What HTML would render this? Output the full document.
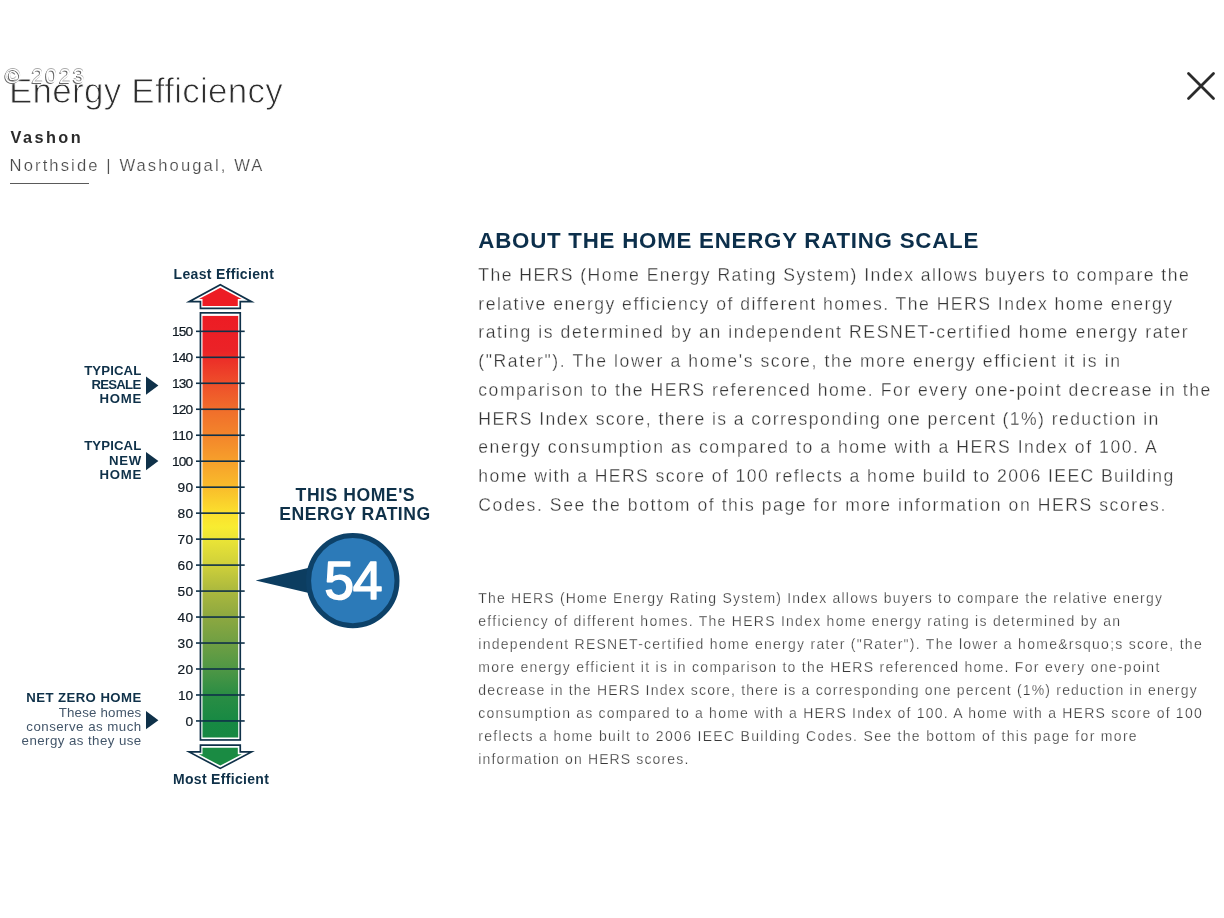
<!DOCTYPE html>
<html lang="en"><head><meta charset="utf-8"><title>Energy Efficiency</title>
<style>
html,body{margin:0;padding:0;background:#fff;}
body{width:1224px;height:918px;position:relative;overflow:hidden;font-family:'Liberation Sans',sans-serif;}
h1,h2,p{margin:0;padding:0;font-weight:400;}
.t{position:absolute;white-space:pre;line-height:1;display:block;margin:0;font-family:'Liberation Sans',sans-serif;}
.wm{position:absolute;left:5px;top:65px;font-size:21px;line-height:22px;color:#fff;letter-spacing:2.1px;word-spacing:1px;text-shadow:-1px 1px 0 #666,0 -1px 0 #aaa,0 0 3px #fff,0 0 3px #fff;}
.ul{position:absolute;left:10px;top:182.8px;width:79px;height:1.2px;background:#5a5a5a;}
.close{position:absolute;left:1182px;top:67px;width:38px;height:38px;padding:0;margin:0;border:0;background:none;}
.close svg{display:block;}
</style></head><body>
<header>
<h1 class="t" style="left:9.0px;top:73.27px;font-size:35px;font-weight:400;color:#2d2d2d;letter-spacing:0.246px;-webkit-text-stroke:0.9px #fff;">Energy Efficiency</h1>
<div class="t" style="left:10.5px;top:128.90px;font-size:16.3px;font-weight:700;color:#2b2b2b;letter-spacing:2.459px;">Vashon</div>
<div class="t" style="left:9.6px;top:157.95px;font-size:16.6px;font-weight:400;color:#4a4a4a;letter-spacing:2.104px;-webkit-text-stroke:0.2px #fff;">Northside | Washougal, WA</div>
<div class="ul"></div>
<div class="wm">&copy; 2023</div>
</header>
<button class="close" aria-label="Close"><svg width="38" height="38" viewBox="0 0 38 38"><path d="M6.5 6.5 L31.5 31.5 M31.5 6.5 L6.5 31.5" stroke="#2b2b2b" stroke-width="2.8" stroke-linecap="round" fill="none"/></svg></button>
<section class="hers-chart">
<svg class="chart" width="470" height="918" viewBox="0 0 470 918" style="position:absolute;left:0;top:0" font-family="'Liberation Sans', sans-serif">
<defs><linearGradient id="g" gradientUnits="userSpaceOnUse" x1="0" y1="316" x2="0" y2="738">
<stop offset="0" stop-color="#ed1c24"/>
<stop offset="0.08" stop-color="#eb2227"/>
<stop offset="0.159" stop-color="#ee4e2a"/>
<stop offset="0.221" stop-color="#f06d2b"/>
<stop offset="0.283" stop-color="#f3852b"/>
<stop offset="0.344" stop-color="#f6a02b"/>
<stop offset="0.406" stop-color="#f9bc2b"/>
<stop offset="0.467" stop-color="#fbe02d"/>
<stop offset="0.5" stop-color="#f8ec31"/>
<stop offset="0.529" stop-color="#ebe536"/>
<stop offset="0.59" stop-color="#cfd03a"/>
<stop offset="0.652" stop-color="#aab83e"/>
<stop offset="0.713" stop-color="#8da840"/>
<stop offset="0.775" stop-color="#6f9f43"/>
<stop offset="0.836" stop-color="#4f9745"/>
<stop offset="0.898" stop-color="#2a8d44"/>
<stop offset="0.96" stop-color="#178943"/>
<stop offset="1" stop-color="#168842"/>
</linearGradient>
</defs>
<rect x="200.45" y="312.85" width="39.8" height="427.1" fill="#fff" stroke="#0f3149" stroke-width="1.7"/>
<rect x="202.5" y="315.9" width="35.7" height="421.6" fill="url(#g)"/>
<path d="M220.3 284.8 L251.5 301.7 L240.25 301.7 L240.25 308.3 L200.45 308.3 L200.45 301.7 L189.1 301.7 Z" fill="#fff" stroke="#0f3149" stroke-width="1.7" stroke-linejoin="miter" stroke-miterlimit="10"/>
<path d="M220.3 287.7 L241.6 299 L237.8 299 L237.8 306 L202.5 306 L202.5 299 L199 299 Z" fill="#ed1c24"/>
<path d="M200.45 745.2 L240.25 745.2 L240.25 751.9 L251.5 751.9 L220.3 768.4 L189.1 751.9 L200.45 751.9 Z" fill="#fff" stroke="#0f3149" stroke-width="1.7" stroke-miterlimit="10"/>
<path d="M202.5 747.7 L237.8 747.7 L237.8 754.3 L241.8 754.3 L220.3 765.6 L198.8 754.3 L202.5 754.3 Z" fill="#1a8b43"/>
<rect x="196" y="720.15" width="48.7" height="1.6" fill="#0f3149"/>
<text x="185.6" y="725.95" font-size="13.7" fill="#0f1922" stroke="#0f1922" stroke-width="0.2" textLength="7.4" lengthAdjust="spacing">0</text>
<rect x="196" y="694.18" width="48.7" height="1.6" fill="#0f3149"/>
<text x="178.1" y="699.98" font-size="13.7" fill="#0f1922" stroke="#0f1922" stroke-width="0.2" textLength="14.9" lengthAdjust="spacing">10</text>
<rect x="196" y="668.20" width="48.7" height="1.6" fill="#0f3149"/>
<text x="177.4" y="674.00" font-size="13.7" fill="#0f1922" stroke="#0f1922" stroke-width="0.2" textLength="15.6" lengthAdjust="spacing">20</text>
<rect x="196" y="642.23" width="48.7" height="1.6" fill="#0f3149"/>
<text x="177.4" y="648.03" font-size="13.7" fill="#0f1922" stroke="#0f1922" stroke-width="0.2" textLength="15.6" lengthAdjust="spacing">30</text>
<rect x="196" y="616.25" width="48.7" height="1.6" fill="#0f3149"/>
<text x="177.4" y="622.05" font-size="13.7" fill="#0f1922" stroke="#0f1922" stroke-width="0.2" textLength="15.6" lengthAdjust="spacing">40</text>
<rect x="196" y="590.28" width="48.7" height="1.6" fill="#0f3149"/>
<text x="177.4" y="596.08" font-size="13.7" fill="#0f1922" stroke="#0f1922" stroke-width="0.2" textLength="15.6" lengthAdjust="spacing">50</text>
<rect x="196" y="564.30" width="48.7" height="1.6" fill="#0f3149"/>
<text x="177.4" y="570.10" font-size="13.7" fill="#0f1922" stroke="#0f1922" stroke-width="0.2" textLength="15.6" lengthAdjust="spacing">60</text>
<rect x="196" y="538.33" width="48.7" height="1.6" fill="#0f3149"/>
<text x="177.4" y="544.12" font-size="13.7" fill="#0f1922" stroke="#0f1922" stroke-width="0.2" textLength="15.6" lengthAdjust="spacing">70</text>
<rect x="196" y="512.35" width="48.7" height="1.6" fill="#0f3149"/>
<text x="177.4" y="518.15" font-size="13.7" fill="#0f1922" stroke="#0f1922" stroke-width="0.2" textLength="15.6" lengthAdjust="spacing">80</text>
<rect x="196" y="486.38" width="48.7" height="1.6" fill="#0f3149"/>
<text x="177.4" y="492.18" font-size="13.7" fill="#0f1922" stroke="#0f1922" stroke-width="0.2" textLength="15.6" lengthAdjust="spacing">90</text>
<rect x="196" y="460.40" width="48.7" height="1.6" fill="#0f3149"/>
<text x="172.1" y="466.20" font-size="13.7" fill="#0f1922" stroke="#0f1922" stroke-width="0.2" textLength="20.9" lengthAdjust="spacing">100</text>
<rect x="196" y="434.43" width="48.7" height="1.6" fill="#0f3149"/>
<text x="172.1" y="440.23" font-size="13.7" fill="#0f1922" stroke="#0f1922" stroke-width="0.2" textLength="20.9" lengthAdjust="spacing">110</text>
<rect x="196" y="408.45" width="48.7" height="1.6" fill="#0f3149"/>
<text x="172.1" y="414.25" font-size="13.7" fill="#0f1922" stroke="#0f1922" stroke-width="0.2" textLength="20.9" lengthAdjust="spacing">120</text>
<rect x="196" y="382.48" width="48.7" height="1.6" fill="#0f3149"/>
<text x="172.1" y="388.28" font-size="13.7" fill="#0f1922" stroke="#0f1922" stroke-width="0.2" textLength="20.9" lengthAdjust="spacing">130</text>
<rect x="196" y="356.50" width="48.7" height="1.6" fill="#0f3149"/>
<text x="172.1" y="362.30" font-size="13.7" fill="#0f1922" stroke="#0f1922" stroke-width="0.2" textLength="20.9" lengthAdjust="spacing">140</text>
<rect x="196" y="330.53" width="48.7" height="1.6" fill="#0f3149"/>
<text x="172.1" y="336.33" font-size="13.7" fill="#0f1922" stroke="#0f1922" stroke-width="0.2" textLength="20.9" lengthAdjust="spacing">150</text>
<text x="173.5" y="279.2" font-size="14" font-weight="700" fill="#0f3149" text-anchor="start" textLength="100.4" lengthAdjust="spacing">Least Efficient</text>
<text x="172.9" y="783.8" font-size="14" font-weight="700" fill="#0f3149" text-anchor="start" textLength="96.0" lengthAdjust="spacing">Most Efficient</text>
<text x="84.2" y="374.6" font-size="13.2" font-weight="700" fill="#0f3149" text-anchor="start" textLength="57.0" lengthAdjust="spacing">TYPICAL</text>
<text x="91.4" y="389.0" font-size="13.2" font-weight="700" fill="#0f3149" text-anchor="start" textLength="49.8" lengthAdjust="spacing">RESALE</text>
<text x="99.4" y="403.4" font-size="13.2" font-weight="700" fill="#0f3149" text-anchor="start" textLength="41.8" lengthAdjust="spacing">HOME</text>
<text x="84.2" y="450.3" font-size="13.2" font-weight="700" fill="#0f3149" text-anchor="start" textLength="57.0" lengthAdjust="spacing">TYPICAL</text>
<text x="108.9" y="464.8" font-size="13.2" font-weight="700" fill="#0f3149" text-anchor="start" textLength="32.3" lengthAdjust="spacing">NEW</text>
<text x="99.4" y="479.3" font-size="13.2" font-weight="700" fill="#0f3149" text-anchor="start" textLength="41.8" lengthAdjust="spacing">HOME</text>
<text x="26.3" y="702.0" font-size="13.2" font-weight="700" fill="#0f3149" text-anchor="start" textLength="114.9" lengthAdjust="spacing">NET ZERO HOME</text>
<text x="58.7" y="716.6" font-size="13.3" font-weight="400" fill="#43566a" text-anchor="start" textLength="82.5" lengthAdjust="spacing">These homes</text>
<text x="26.3" y="731.0" font-size="13.3" font-weight="400" fill="#43566a" text-anchor="start" textLength="114.9" lengthAdjust="spacing">conserve as much</text>
<text x="21.6" y="745.4" font-size="13.3" font-weight="400" fill="#43566a" text-anchor="start" textLength="119.6" lengthAdjust="spacing">energy as they use</text>
<path d="M146 376.5 L158.4 385.6 L146 394.7 Z" fill="#0f3149"/>
<path d="M146 452.0 L158.4 461.1 L146 470.2 Z" fill="#0f3149"/>
<path d="M146 711.1 L158.4 720.2 L146 729.3 Z" fill="#0f3149"/>
<text x="295.6" y="501.2" font-size="17.6" font-weight="700" fill="#0f3149" text-anchor="start" textLength="119.0" lengthAdjust="spacing">THIS HOME&#x27;S</text>
<text x="279.3" y="519.9" font-size="17.6" font-weight="700" fill="#0f3149" text-anchor="start" textLength="150.8" lengthAdjust="spacing">ENERGY RATING</text>
<path d="M255.6 580.6 L310 567.4 L310 593.2 Z" fill="#0c3d60"/>
<ellipse cx="352.8" cy="580.7" rx="44.2" ry="45.1" fill="#2c7ab8" stroke="#0d4168" stroke-width="5"/>
<text x="324.2" y="599.4" font-size="53.6" font-weight="400" fill="#fff" text-anchor="start" textLength="58.4" lengthAdjust="spacing" stroke="#fff" stroke-width="1.5" stroke-linejoin="round">54</text>
</svg>
</section>
<section class="about">
<h2 class="t" style="left:478.3px;top:229.92px;font-size:22.3px;font-weight:700;color:#0c2f4b;letter-spacing:0.761px;">ABOUT THE HOME ENERGY RATING SCALE</h2>
<p>
<span class="t" style="left:478.3px;top:266.80px;font-size:17.6px;font-weight:400;color:#353535;letter-spacing:1.446px;-webkit-text-stroke:0.3px #fff;">The HERS (Home Energy Rating System) Index allows buyers to compare the</span>
<span class="t" style="left:478.3px;top:295.55px;font-size:17.6px;font-weight:400;color:#353535;letter-spacing:1.471px;-webkit-text-stroke:0.3px #fff;">relative energy efficiency of different homes. The HERS Index home energy</span>
<span class="t" style="left:478.3px;top:324.30px;font-size:17.6px;font-weight:400;color:#353535;letter-spacing:1.581px;-webkit-text-stroke:0.3px #fff;">rating is determined by an independent RESNET-certified home energy rater</span>
<span class="t" style="left:478.3px;top:353.05px;font-size:17.6px;font-weight:400;color:#353535;letter-spacing:1.588px;-webkit-text-stroke:0.3px #fff;">(&quot;Rater&quot;). The lower a home&#x27;s score, the more energy efficient it is in</span>
<span class="t" style="left:478.3px;top:381.80px;font-size:17.6px;font-weight:400;color:#353535;letter-spacing:1.526px;-webkit-text-stroke:0.3px #fff;">comparison to the HERS referenced home. For every one-point decrease in the</span>
<span class="t" style="left:478.3px;top:410.55px;font-size:17.6px;font-weight:400;color:#353535;letter-spacing:1.423px;-webkit-text-stroke:0.3px #fff;">HERS Index score, there is a corresponding one percent (1%) reduction in</span>
<span class="t" style="left:478.3px;top:439.30px;font-size:17.6px;font-weight:400;color:#353535;letter-spacing:1.542px;-webkit-text-stroke:0.3px #fff;">energy consumption as compared to a home with a HERS Index of 100. A</span>
<span class="t" style="left:478.3px;top:468.05px;font-size:17.6px;font-weight:400;color:#353535;letter-spacing:1.394px;-webkit-text-stroke:0.3px #fff;">home with a HERS score of 100 reflects a home build to 2006 IEEC Building</span>
<span class="t" style="left:478.3px;top:496.80px;font-size:17.6px;font-weight:400;color:#353535;letter-spacing:1.558px;-webkit-text-stroke:0.3px #fff;">Codes. See the bottom of this page for more information on HERS scores.</span>
</p>
<p>
<span class="t" style="left:478.3px;top:591.45px;font-size:14.0px;font-weight:400;color:#383838;letter-spacing:1.200px;-webkit-text-stroke:0.25px #fff;">The HERS (Home Energy Rating System) Index allows buyers to compare the relative energy</span>
<span class="t" style="left:478.3px;top:614.45px;font-size:14.0px;font-weight:400;color:#383838;letter-spacing:1.262px;-webkit-text-stroke:0.25px #fff;">efficiency of different homes. The HERS Index home energy rating is determined by an</span>
<span class="t" style="left:478.3px;top:637.45px;font-size:14.0px;font-weight:400;color:#383838;letter-spacing:1.270px;-webkit-text-stroke:0.25px #fff;">independent RESNET-certified home energy rater (&quot;Rater&quot;). The lower a home&amp;rsquo;s score, the</span>
<span class="t" style="left:478.3px;top:660.45px;font-size:14.0px;font-weight:400;color:#383838;letter-spacing:1.281px;-webkit-text-stroke:0.25px #fff;">more energy efficient it is in comparison to the HERS referenced home. For every one-point</span>
<span class="t" style="left:478.3px;top:683.45px;font-size:14.0px;font-weight:400;color:#383838;letter-spacing:1.185px;-webkit-text-stroke:0.25px #fff;">decrease in the HERS Index score, there is a corresponding one percent (1%) reduction in energy</span>
<span class="t" style="left:478.3px;top:706.45px;font-size:14.0px;font-weight:400;color:#383838;letter-spacing:1.224px;-webkit-text-stroke:0.25px #fff;">consumption as compared to a home with a HERS Index of 100. A home with a HERS score of 100</span>
<span class="t" style="left:478.3px;top:729.45px;font-size:14.0px;font-weight:400;color:#383838;letter-spacing:1.312px;-webkit-text-stroke:0.25px #fff;">reflects a home built to 2006 IEEC Building Codes. See the bottom of this page for more</span>
<span class="t" style="left:478.3px;top:752.45px;font-size:14.0px;font-weight:400;color:#383838;letter-spacing:1.133px;-webkit-text-stroke:0.25px #fff;">information on HERS scores.</span>
</p>
</section>
</body></html>
